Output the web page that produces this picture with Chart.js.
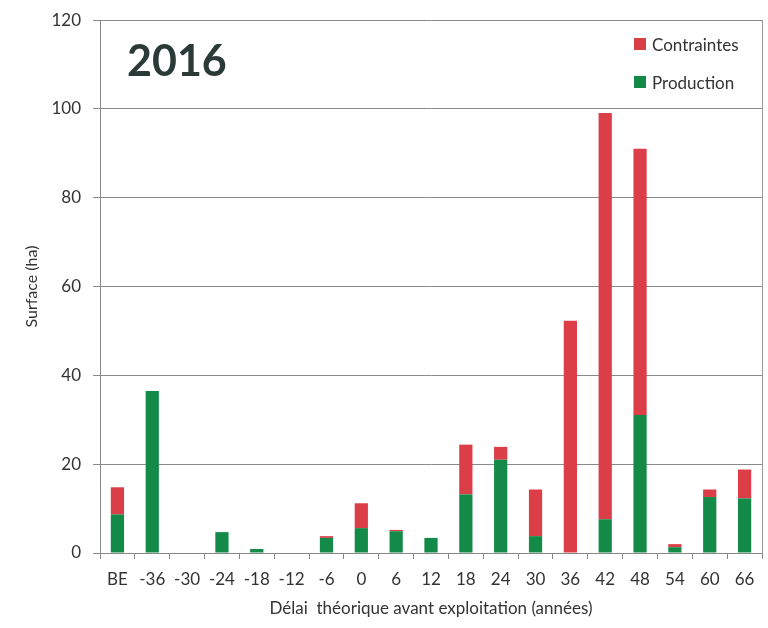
<!DOCTYPE html>
<html>
<head>
<meta charset="utf-8">
<script src="https://cdn.jsdelivr.net/npm/chart.js@4"></script>
<style>
  body { margin: 0; background: #fff; }
  #wrap { position: relative; width: 768px; height: 628px; }
  #title { position: absolute; left: 127px; top: 34px; font: bold 43px Lato, sans-serif; color: #2c3a37; }
  #legend { position: absolute; left: 634px; top: 25px; font: 17px Lato, sans-serif; color: #333; }
  #legend div { height: 38px; display: flex; align-items: center; }
  #legend span.box { display: inline-block; width: 12px; height: 12px; margin-right: 6px; }
</style>
</head>
<body>
<div id="wrap">
  <canvas id="myChart" width="768" height="628"></canvas>
  <div id="title">2016</div>
  <div id="legend"></div>
</div>
<script>
// data
let categories = ['BE', '-36', '-30', '-24', '-18', '-12', '-6', '0', '6', '12', '18', '24', '30', '36', '42', '48', '54', '60', '66']
let production = [8.7, 36.5, 0, 4.7, 0.9, 0, 3.4, 5.6, 4.9, 3.4, 13.2, 21.0, 3.8, 0, 7.6, 31.1, 1.3, 12.6, 12.3]
let contraintes = [6.1, 0, 0, 0, 0, 0, 0.4, 5.6, 0.3, 0, 11.2, 2.9, 10.5, 52.3, 91.5, 59.9, 0.7, 1.7, 6.5]
let yTicks = [0, 20, 40, 60, 80, 100, 120]

let red = '#dc3e48'
let green = '#148a48'
let tickFont = { family: 'Lato', size: 17 }

let data = {
    labels: categories,
    datasets: [{
        label: 'Production',
        data: production,
        backgroundColor: green,
        categoryPercentage: 1,
        barPercentage: 0.38
    },
    {
        label: 'Contraintes',
        data: contraintes,
        backgroundColor: red,
        categoryPercentage: 1,
        barPercentage: 0.38
    }]
}

let config = {
    type: 'bar',
    data,
    options: {
        responsive: false,
        animation: false,
        layout: { padding: { top: 6, right: 6 } },
        plugins: { legend: { display: false }, tooltip: { enabled: false } },
        scales: {
            x: {
                stacked: true,
                grid: { drawOnChartArea: false, color: '#888', tickLength: 6 },
                border: { color: '#888' },
                ticks: { color: '#333', font: tickFont, padding: 10 },
                title: { display: true, text: 'Délai  théorique avant exploitation (années)', color: '#333', font: { family: 'Lato', size: 17 }, padding: { top: 6, bottom: 9 } },
                afterFit: scale => { scale.height = 75 }
            },
            y: {
                stacked: true,
                min: 0,
                max: 120,
                afterBuildTicks: scale => { scale.ticks = yTicks.map(v => ({ value: v })) },
                grid: { color: '#8a8a8a', tickLength: 7 },
                border: { color: '#888' },
                ticks: { color: '#333', font: { family: 'Lato', size: 17, lineHeight: 0.95 }, padding: 12 },
                title: { display: true, text: 'Surface (ha)', color: '#333', font: { family: 'Lato', size: 16 }, padding: { top: 22, bottom: 4 } },
                afterFit: scale => { scale.width = 100 }
            },
            yRight: {
                position: 'right',
                min: 0,
                max: 120,
                grid: { drawOnChartArea: false, drawTicks: false },
                border: { color: '#999' },
                ticks: { display: false }
            }
        }
    }
}

let myChart = new Chart(document.getElementById('myChart'), config)

// legend, Contraintes on top
let legend = document.getElementById('legend')
data.datasets.slice().reverse().forEach(ds => {
    let row = document.createElement('div')
    row.innerHTML = '<span class="box" style="background:' + ds.backgroundColor + '"></span>' + ds.label
    legend.appendChild(row)
})
</script>
</body>
</html>
